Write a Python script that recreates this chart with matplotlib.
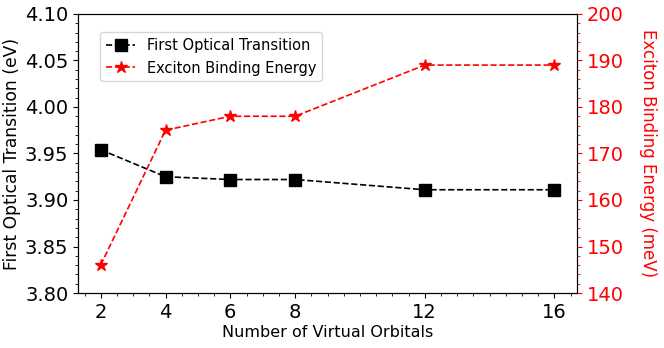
import matplotlib
matplotlib.use("Agg")
import matplotlib.pyplot as plt
from matplotlib.ticker import AutoMinorLocator

# Datos
orbitals = [2, 4, 6, 8, 12, 16]
optical = [3.954, 3.925, 3.922, 3.922, 3.911, 3.911]
binding = [146, 175, 178, 178, 189, 189]

fig = plt.figure(figsize=(6.64, 3.48), dpi=100)
ax = fig.add_axes([0.1175, 0.158, 0.7515, 0.802])

# Transicion optica
l1, = ax.plot(orbitals, optical, 'ks--', markersize=8, linewidth=1.2,
              label='First Optical Transition')
ax.set_ylim(3.80, 4.10)
ax.set_xticks(orbitals)
ax.xaxis.set_minor_locator(AutoMinorLocator())
ax.yaxis.set_minor_locator(AutoMinorLocator())
ax.tick_params(axis='both', which='major', labelsize=14)
ax.set_xlabel('Number of Virtual Orbitals', fontsize=11.5, labelpad=2)
ax.set_ylabel('First Optical Transition (eV)', fontsize=12.3, labelpad=3)

# Energia de enlace
ax2 = ax.twinx()
l2, = ax2.plot(orbitals, binding, 'r*--', markersize=9, linewidth=1.2,
               label='Exciton Binding Energy')
ax2.set_ylim(140, 200)
ax2.yaxis.set_minor_locator(AutoMinorLocator())
ax2.tick_params(axis='y', which='both', colors='red', labelsize=14)
ax2.set_ylabel('Exciton Binding Energy (meV)', color='red', fontsize=12,
               rotation=270, labelpad=24)

ax.legend(handles=[l1, l2], loc='upper left', bbox_to_anchor=(0.03, 0.96),
          fontsize=10.5)

fig.savefig('out.png', dpi=100)
